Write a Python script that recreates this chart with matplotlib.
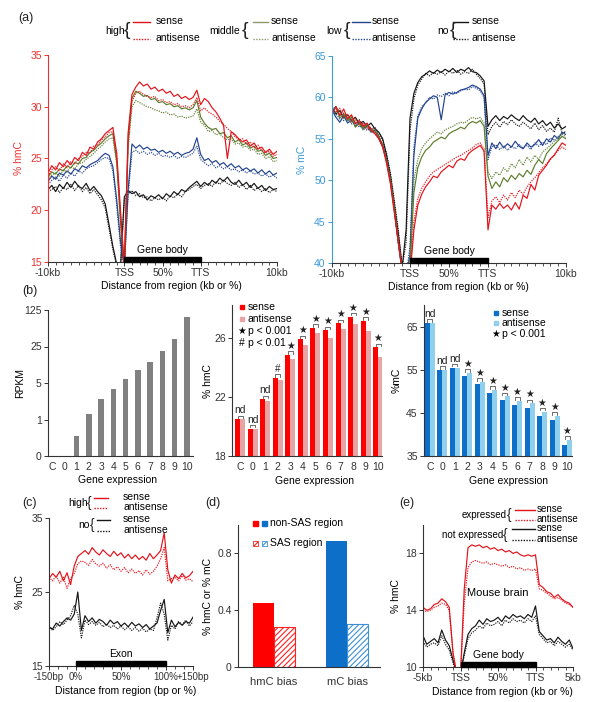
import numpy as np
import matplotlib
matplotlib.use('Agg')
import matplotlib.pyplot as plt
from matplotlib.patches import Rectangle
from matplotlib.ticker import MultipleLocator, NullLocator

plt.rcParams['font.family'] = ['Liberation Sans', 'DejaVu Sans']
plt.rcParams['font.size'] = 7.5
plt.rcParams['hatch.linewidth'] = 0.8

# ---------------- data ----------------
# (a) profiles: 0 = -10kb, 1 = TSS, 2 = TTS, 3 = +10kb
x_a = np.linspace(0, 3, 61)
hmc_high_sense = [23.6, 24.3, 23.9, 24.6, 24.2, 24.8, 24.4, 25.1, 24.8, 25.6, 25.3, 26.1, 25.9, 26.6, 26.9, 27.4, 27.7, 28.0, 25.5, 20.0, 14.5,
                  27.5, 31.2, 31.9, 32.4, 32.0, 32.2, 31.7, 31.9, 31.5, 31.7, 31.3, 31.5, 31.0, 31.2, 30.8, 31.0, 30.7, 30.9, 31.6,
                  30.2, 30.8, 30.5, 29.9, 29.5, 28.9, 28.2, 25.0, 27.6, 27.3, 26.9, 26.6, 26.8, 26.2, 26.5, 25.9, 26.1, 25.6, 25.9, 25.4, 25.7]
hmc_high_anti = [23.3, 23.9, 24.2, 23.8, 24.5, 24.1, 24.7, 24.5, 25.0, 25.2, 25.6, 25.5, 26.2, 26.3, 26.8, 27.1, 27.5, 27.6, 25.0, 19.5, 14.5,
                 26.5, 30.5, 31.3, 31.5, 31.2, 31.0, 30.9, 31.0, 30.6, 30.7, 30.4, 30.5, 30.2, 30.3, 30.0, 30.1, 29.9, 30.2, 30.9,
                 29.6, 29.9, 29.5, 29.3, 29.0, 28.6, 28.3, 27.9, 27.6, 27.1, 26.8, 26.9, 26.4, 26.6, 26.0, 26.3, 25.8, 25.5, 25.7, 25.2, 25.4]
hmc_mid_sense = [23.2, 23.7, 23.5, 24.0, 23.8, 24.3, 24.1, 24.6, 24.5, 25.0, 25.1, 25.6, 25.8, 26.2, 26.5, 26.9, 27.2, 27.4, 24.8, 19.0, 14.5,
                 27.0, 30.8, 31.5, 31.3, 31.0, 31.1, 30.7, 30.8, 30.4, 30.5, 30.2, 30.3, 30.0, 30.1, 29.8, 29.9, 29.7, 29.9, 30.6,
                 29.0, 28.4, 28.0, 27.8, 27.9, 27.4, 27.5, 27.0, 27.2, 26.6, 26.8, 26.3, 26.5, 26.0, 26.2, 25.7, 25.8, 25.3, 25.5, 25.0, 25.1]
hmc_mid_anti = [23.0, 23.4, 23.6, 23.3, 23.9, 23.7, 24.2, 24.0, 24.5, 24.6, 24.9, 25.2, 25.5, 25.9, 26.2, 26.6, 26.9, 27.0, 24.5, 18.5, 14.5,
                26.0, 30.0, 30.6, 30.4, 30.2, 30.0, 29.9, 29.7, 29.6, 29.4, 29.5, 29.2, 29.3, 29.0, 29.1, 28.9, 29.0, 29.1, 29.8,
                28.5, 28.2, 27.6, 27.7, 27.3, 27.4, 27.0, 26.8, 26.9, 26.4, 26.5, 26.1, 26.2, 25.8, 25.9, 25.4, 25.5, 25.0, 25.2, 24.7, 24.8]
hmc_low_sense = [22.8, 23.3, 23.0, 23.6, 23.4, 23.8, 23.5, 24.0, 23.8, 24.3, 24.1, 24.4, 24.6, 24.8, 25.2, 25.5, 25.3, 24.2, 21.0, 17.0, 14.5,
                 22.0, 26.4, 26.0, 26.3, 25.9, 26.1, 25.8, 25.9, 25.6, 25.8, 25.5, 25.7, 25.4, 25.6, 25.3, 25.5, 25.6, 25.9, 27.0,
                 25.4, 24.8, 25.0, 24.6, 24.8, 24.4, 24.6, 24.2, 24.5, 24.1, 24.3, 23.9, 24.1, 23.8, 24.0, 23.6, 23.9, 23.5, 23.8, 23.4, 23.6]
hmc_low_anti = [22.5, 22.9, 23.2, 22.8, 23.4, 23.1, 23.6, 23.3, 23.8, 23.6, 24.0, 24.2, 24.3, 24.6, 24.9, 25.1, 25.0, 23.8, 20.5, 16.5, 14.5,
                21.5, 25.6, 25.8, 25.5, 25.7, 25.4, 25.6, 25.3, 25.5, 25.2, 25.3, 25.1, 25.3, 25.0, 25.2, 25.1, 25.3, 25.5, 26.2,
                24.9, 24.6, 24.3, 24.5, 24.1, 24.3, 24.0, 24.2, 23.9, 24.0, 23.7, 23.9, 23.6, 23.8, 23.5, 23.6, 23.3, 23.5, 23.2, 23.4, 23.1]
hmc_no_sense = [22.0, 22.4, 21.8, 22.5, 22.1, 22.7, 22.2, 22.8, 22.3, 22.1, 22.6, 21.9, 22.3, 21.8, 21.4, 20.6, 18.6, 16.5, 14.8, 14.5, 21.3,
                21.9, 21.6, 21.8, 21.3, 21.5, 21.0, 21.4, 21.2, 21.5, 21.1, 21.6, 21.3, 21.8, 21.5, 22.0, 21.8, 22.2, 22.5, 22.8,
                22.3, 22.7, 22.4, 22.9, 22.6, 23.1, 22.8, 23.2, 22.7, 22.5, 22.9, 22.4, 22.7, 22.2, 22.6, 22.1, 22.4, 21.9, 22.3, 22.0, 22.1]
hmc_no_anti = [21.8, 22.0, 22.3, 21.7, 22.2, 22.0, 22.5, 21.9, 22.4, 21.8, 22.2, 21.6, 22.0, 21.5, 21.0, 20.2, 18.2, 16.2, 14.6, 14.5, 21.0,
               21.6, 21.9, 21.4, 21.6, 21.2, 21.3, 20.9, 21.2, 21.0, 21.3, 20.9, 21.4, 21.2, 21.6, 21.3, 21.8, 22.0, 22.3, 22.5,
               22.1, 22.4, 22.6, 22.3, 22.8, 22.5, 22.9, 22.6, 22.4, 22.7, 22.2, 22.5, 22.0, 22.4, 21.9, 22.2, 21.8, 22.1, 21.7, 22.0, 21.8]

mc_no_sense = [58.8, 58.0, 58.4, 57.5, 57.9, 57.2, 57.6, 56.8, 57.1, 56.5, 56.9, 56.2, 55.8, 55.0, 53.0, 50.5, 47.0, 43.5, 39.5, 44.0, 57.5,
               60.5, 61.8, 62.5, 62.8, 63.2, 62.9, 63.3, 63.0, 63.4, 63.1, 63.5, 63.0, 63.4, 63.2, 63.6, 63.1, 63.0, 62.6, 62.0,
               56.5, 57.3, 57.8, 57.2, 57.7, 57.4, 57.9, 57.5, 57.2, 57.8, 57.3, 57.0, 57.5, 56.8, 57.2, 56.6, 57.0, 56.3, 56.8, 56.2, 56.5]
mc_no_anti = [58.5, 58.9, 57.8, 58.1, 57.4, 57.8, 56.9, 57.3, 56.6, 56.8, 56.1, 56.4, 55.6, 54.8, 53.2, 50.8, 47.5, 44.0, 39.5, 42.5, 56.0,
              59.8, 61.5, 62.2, 62.9, 62.6, 63.0, 62.8, 63.1, 62.7, 63.2, 62.9, 63.3, 62.8, 63.1, 62.9, 63.4, 62.8, 62.3, 61.6,
              55.5, 56.5, 57.0, 56.4, 57.1, 56.7, 57.3, 56.8, 56.5, 57.0, 56.6, 56.2, 56.9, 56.1, 56.6, 55.9, 56.3, 55.8, 57.5, 55.6, 55.9]
mc_low_sense = [58.5, 57.6, 57.0, 57.8, 56.9, 57.3, 56.5, 57.0, 56.2, 56.6, 55.8, 56.0, 55.3, 54.2, 52.5, 50.0, 46.5, 42.5, 39.0, 38.5, 41.0,
                53.0, 57.5, 58.6, 59.4, 59.8, 60.2, 60.0, 57.3, 60.3, 60.6, 60.4, 60.6, 60.9, 61.0, 61.2, 61.5, 61.3, 61.0, 60.2,
                53.0, 54.5, 53.8, 54.6, 53.9, 54.4, 54.0, 54.7, 54.1, 53.8, 54.5, 54.0, 54.3, 54.9, 54.2, 55.0, 54.6, 55.4, 55.0, 55.8, 55.5]
mc_low_anti = [58.2, 58.0, 57.4, 57.2, 57.5, 56.8, 57.0, 56.4, 56.7, 56.0, 56.3, 55.7, 55.0, 54.0, 52.3, 49.8, 46.3, 42.3, 39.0, 38.5, 42.0,
               54.0, 57.8, 58.9, 59.3, 60.0, 59.8, 60.3, 60.1, 60.5, 60.2, 60.7, 60.5, 60.8, 61.0, 60.9, 61.3, 61.1, 60.8, 60.0,
               52.5, 54.0, 54.3, 53.7, 54.2, 53.6, 54.1, 53.8, 54.3, 53.9, 54.2, 53.7, 54.5, 54.1, 54.6, 54.3, 55.1, 54.8, 55.3, 55.6, 55.9]
mc_mid_sense = [58.2, 58.8, 57.5, 58.0, 57.2, 57.6, 56.4, 56.9, 56.3, 56.7, 55.9, 56.1, 55.2, 54.0, 52.3, 49.8, 46.5, 42.5, 39.0, 38.5, 39.5,
                48.5, 51.5, 52.8, 53.6, 54.0, 54.6, 54.9, 55.2, 55.0, 55.6, 55.9, 56.1, 56.4, 56.2, 56.8, 57.1, 56.9, 57.2, 56.5,
                50.5, 49.0, 49.8, 49.2, 50.3, 49.8, 50.6, 50.1, 50.8, 50.4, 51.2, 50.7, 51.8, 52.5, 52.0, 53.2, 53.8, 54.3, 54.8, 55.3, 55.0]
mc_mid_anti = [57.9, 58.3, 58.5, 57.6, 57.9, 57.0, 57.3, 56.7, 56.0, 56.5, 56.2, 55.6, 55.4, 54.2, 52.6, 50.2, 46.8, 42.8, 39.0, 38.5, 40.5,
               50.0, 52.5, 53.8, 54.5, 55.0, 55.4, 55.8, 55.6, 56.1, 56.3, 56.5, 56.8, 57.0, 56.9, 57.3, 57.6, 57.4, 57.6, 56.9,
               51.0, 50.2, 51.0, 50.6, 51.5, 51.0, 52.0, 51.5, 52.5, 51.8, 52.8, 52.2, 53.0, 52.5, 53.4, 53.8, 54.2, 54.7, 55.0, 55.6, 55.2]
mc_high_sense = [58.0, 58.9, 57.8, 58.6, 57.4, 57.9, 56.8, 57.2, 56.5, 56.9, 56.0, 55.6, 55.0, 54.0, 52.0, 49.5, 46.0, 42.5, 39.0, 38.5, 38.5,
                 44.0, 47.0, 48.3, 49.2, 49.8, 50.5, 50.3, 51.0, 51.4, 51.8, 51.5, 52.3, 52.6, 52.4, 53.2, 53.6, 53.9, 54.2, 53.5,
                 44.0, 47.0, 46.5, 47.2, 46.6, 47.0, 46.4, 47.3, 46.5, 48.2, 47.8, 49.5, 48.8, 50.6, 51.2, 51.8, 52.6, 53.0, 53.8, 54.5, 54.2]
mc_high_anti = [58.4, 58.2, 58.7, 57.6, 58.0, 57.1, 57.5, 56.6, 56.9, 56.2, 56.4, 55.8, 55.2, 54.2, 52.3, 49.8, 46.2, 42.8, 39.0, 38.5, 38.5,
                45.0, 47.8, 49.0, 49.8, 50.5, 51.0, 51.3, 51.6, 51.9, 52.2, 52.5, 52.8, 53.0, 53.3, 53.6, 53.9, 54.3, 54.5, 53.8,
                45.5, 47.5, 48.0, 47.3, 48.2, 47.6, 48.5, 47.9, 48.8, 48.3, 49.2, 49.8, 50.3, 50.9, 51.5, 52.0, 52.5, 53.1, 53.6, 54.0, 53.7]

# (b) bars by gene expression class
expr_labels = ['C', '0', '1', '2', '3', '4', '5', '6', '7', '8', '9', '10']
rpkm = [0, 0, 0.55, 1.27, 2.46, 3.86, 6.06, 8.8, 12.9, 20.3, 35.0, 92.0]
hmc_sense = [20.48, 19.85, 21.83, 23.27, 24.82, 25.88, 26.65, 26.49, 26.97, 27.41, 27.12, 25.34]
hmc_anti = [20.48, 19.80, 21.72, 23.13, 24.55, 25.48, 26.31, 25.97, 26.58, 26.94, 26.47, 24.69]
hmc_sig = ['nd', 'nd', 'nd', '#', '★', '★', '★', '★', '★', '★', '★', '★']
mc_sense = [65.8, 54.95, 55.3, 53.6, 51.6, 49.5, 47.9, 46.8, 46.1, 44.3, 43.3, 37.6]
mc_anti = [65.8, 55.0, 55.5, 54.2, 52.2, 50.3, 48.8, 47.8, 47.2, 45.3, 44.3, 38.7]
mc_sig = ['nd', 'nd', 'nd', '★', '★', '★', '★', '★', '★', '★', '★', '★']

# (c) exon profile: 0 = exon start, 1 = exon end, flanks 150bp
x_c = np.linspace(-0.3, 1.3, 41)
c_high_sense = [26.8, 27.5, 27.0, 27.8, 26.5, 27.6, 26.0, 28.5, 29.8, 30.2, 30.6, 30.1, 31.0, 30.4, 30.0, 30.7, 30.2, 29.8, 30.5, 29.9,
                30.3, 29.6, 30.1, 29.5, 30.0, 29.4, 29.8, 29.3, 30.2, 29.5, 30.0, 30.6, 33.0, 28.0, 26.2, 27.3, 26.8, 27.5, 26.9, 27.2, 27.8]
c_high_anti = [27.0, 26.5, 27.2, 26.2, 27.0, 25.5, 26.8, 27.5, 28.8, 29.2, 29.0, 28.6, 29.4, 28.8, 28.5, 28.9, 28.2, 28.7, 28.0, 28.4,
               27.8, 28.3, 27.6, 28.1, 27.5, 27.9, 27.3, 28.0, 27.4, 27.8, 28.5, 29.5, 31.0, 26.5, 26.8, 27.0, 26.5, 27.2, 26.6, 26.8, 26.4]
c_no_sense = [20.2, 20.0, 20.8, 20.4, 21.0, 21.5, 21.2, 22.0, 25.0, 19.8, 21.8, 21.0, 21.5, 20.8, 21.3, 21.0, 20.5, 21.2, 20.7, 21.0,
              20.4, 20.8, 20.3, 20.9, 20.4, 20.7, 20.2, 20.6, 20.0, 20.4, 20.8, 22.5, 24.0, 19.5, 21.2, 20.3, 20.9, 20.5, 21.0, 20.8, 21.6]
c_no_anti = [20.5, 19.8, 20.3, 21.0, 20.6, 21.2, 21.8, 23.2, 22.0, 18.8, 21.2, 20.6, 21.0, 20.5, 20.9, 20.3, 20.7, 20.2, 20.5, 20.0,
             20.4, 19.9, 20.3, 19.8, 20.2, 19.7, 20.1, 19.6, 20.0, 19.8, 21.5, 23.5, 22.0, 18.5, 20.5, 20.0, 21.0, 20.6, 21.2, 20.4, 21.0]

# (d) strand bias
bias_labels = ['hmC bias', 'mC bias']
bias_nonsas = [0.45, 0.886]
bias_sas = [0.28, 0.30]

# (e) mouse brain: 0 = TSS, 1 = TTS, flanks 5kb
x_e = np.linspace(-0.5, 1.5, 41)
e_exp_sense = [14.2, 14.0, 14.1, 14.4, 14.5, 14.8, 14.6, 14.2, 11.0, 9.5, 9.5, 15.5, 18.4, 18.6, 18.5, 18.6, 18.4, 18.5, 18.3, 18.4,
               18.2, 18.3, 18.1, 18.2, 18.0, 18.1, 17.9, 17.8, 17.9, 17.8, 17.9, 15.8, 15.6, 15.3, 15.2, 14.9, 15.1, 14.8, 14.6, 14.5, 14.2]
e_exp_anti = [14.0, 13.9, 14.0, 14.2, 14.3, 14.5, 14.4, 14.0, 11.0, 9.5, 9.5, 14.5, 17.0, 17.4, 17.5, 17.4, 17.3, 17.4, 17.2, 17.3,
              17.2, 17.1, 17.2, 17.0, 17.1, 16.9, 17.0, 16.8, 16.9, 16.8, 16.9, 15.5, 15.4, 15.2, 15.0, 14.8, 14.9, 14.7, 14.5, 14.4, 14.2]
e_not_sense = [12.2, 11.6, 11.8, 12.0, 11.7, 12.6, 11.9, 11.5, 10.5, 9.5, 9.5, 11.0, 12.3, 12.7, 12.9, 13.3, 13.0, 13.4, 13.2, 13.3,
               13.5, 13.2, 13.6, 13.4, 13.7, 13.5, 13.6, 13.4, 13.7, 13.5, 14.3, 12.5, 12.2, 11.9, 12.0, 11.7, 12.1, 11.8, 11.6, 11.9, 11.3]
e_not_anti = [11.8, 11.4, 11.6, 11.7, 11.5, 12.2, 11.6, 11.2, 10.3, 9.5, 9.5, 10.8, 12.0, 12.4, 12.6, 12.9, 12.7, 13.1, 12.9, 13.0,
              13.2, 12.9, 13.3, 13.1, 13.4, 13.2, 13.3, 13.1, 13.4, 13.2, 13.6, 12.3, 12.0, 11.7, 11.8, 11.5, 11.8, 11.6, 11.4, 11.6, 11.2]

# ---------------- style ----------------
RED = '#e3121a'
GREEN = '#5c7c2c'
NAVY = '#23438f'
BLACK = '#151515'
AXRED = '#f03030'
AXBLUE = '#3d9ad8'
GRAY = '#333333'
DOT = (0, (1, 1))
LW = 0.85

W, H = 600, 702
fig = plt.figure(figsize=(W / 100, H / 100), dpi=100)


def px_axes(l, t, r, b):
    return fig.add_axes([l / W, 1 - b / H, (r - l) / W, (b - t) / H])


def style(ax, left_color=GRAY):
    ax.spines['top'].set_visible(False)
    ax.spines['right'].set_visible(False)
    ax.spines['left'].set_color(left_color)
    ax.spines['bottom'].set_color(GRAY)
    ax.tick_params(direction='out', length=3, width=0.7, pad=1.5, labelsize=7.5, colors=GRAY)
    ax.tick_params(axis='y', colors=left_color)
    ax.set_facecolor('none')


def body_bar(ax, x0, label, h_px):
    tr = ax.get_xaxis_transform()
    ax.add_patch(Rectangle((x0, 0), 1, 5 / h_px, transform=tr, color='black', clip_on=False, zorder=5))
    ax.text(x0 + 0.5, 7 / h_px, label, transform=tr, ha='center', va='bottom', fontsize=7.5)


# ---- (a) left: hmC ----
ax = px_axes(48, 55, 277, 262)
style(ax, AXRED)
series = [(hmc_no_anti, BLACK, DOT), (hmc_no_sense, BLACK, '-'),
          (hmc_low_anti, NAVY, DOT), (hmc_low_sense, NAVY, '-'),
          (hmc_mid_anti, GREEN, DOT), (hmc_mid_sense, GREEN, '-'),
          (hmc_high_anti, RED, DOT), (hmc_high_sense, RED, '-')]
for y, c, ls in series:
    ax.plot(x_a, y, color=c, lw=LW, ls=ls)
body_bar(ax, 1, 'Gene body', 207)
ax.set_xlim(0, 3)
ax.set_ylim(15, 35)
ax.set_yticks([15, 20, 25, 30, 35])
ax.set_xticks([0, 1, 1.5, 2, 3], ['-10kb', 'TSS', '50%', 'TTS', '10kb'])
ax.xaxis.set_minor_locator(MultipleLocator(0.1))
ax.tick_params(axis='x', which='minor', length=2, width=0.6, colors=GRAY)
ax.set_ylabel('% hmC', color=AXRED)
ax.yaxis.set_label_coords(-0.105, 0.5)
ax.set_xlabel('Distance from region (kb or %)')
ax.xaxis.set_label_coords(0.54, -0.09)

# ---- (a) right: mC ----
ax = px_axes(332, 56, 566, 263)
style(ax, AXBLUE)
series = [(mc_no_anti, BLACK, DOT), (mc_no_sense, BLACK, '-'),
          (mc_low_anti, NAVY, DOT), (mc_low_sense, NAVY, '-'),
          (mc_mid_anti, GREEN, DOT), (mc_mid_sense, GREEN, '-'),
          (mc_high_anti, RED, DOT), (mc_high_sense, RED, '-')]
for y, c, ls in series:
    ax.plot(x_a, y, color=c, lw=LW, ls=ls)
body_bar(ax, 1, 'Gene body', 207)
ax.set_xlim(0, 3)
ax.set_ylim(40, 65)
ax.set_yticks([40, 45, 50, 55, 60, 65])
ax.set_xticks([0, 1, 1.5, 2, 3], ['-10kb', 'TSS', '50%', 'TTS', '10kb'])
ax.xaxis.set_minor_locator(MultipleLocator(0.1))
ax.tick_params(axis='x', which='minor', length=2, width=0.6, colors=GRAY)
ax.set_ylabel('% mC', color=AXBLUE)
ax.yaxis.set_label_coords(-0.107, 0.5)
ax.set_xlabel('Distance from region (kb or %)')
ax.xaxis.set_label_coords(0.54, -0.09)

# ---- (b) RPKM ----
xb = np.arange(len(expr_labels))
ax = px_axes(48, 310, 193, 456)
style(ax)
ax.bar(xb, rpkm, width=0.45, color='#808080')
ax.set_yscale('symlog', base=5, linthresh=1, linscale=0.8)
ax.set_ylim(0, 125)
ax.set_yticks([0, 1, 5, 25, 125], ['0', '1', '5', '25', '125'])
ax.yaxis.set_minor_locator(NullLocator())
ax.set_xlim(-0.33, 11.5)
ax.set_xticks(xb, expr_labels)
ax.tick_params(axis='x', length=0, pad=4)
ax.set_ylabel('RPKM')
ax.yaxis.set_label_coords(-0.16, 0.5)
ax.set_xlabel('Gene expression')
ax.xaxis.set_label_coords(0.48, -0.13)


def sig_marks(ax, sense, anti, marks, px_unit):
    for i, (s, a, m) in enumerate(zip(sense, anti, marks)):
        base = max(s, a) + 1.2 / px_unit
        h = 2.5 / px_unit
        ax.plot([i - 0.2, i - 0.2, i + 0.2, i + 0.2], [base, base + h, base + h, base],
                color='#555555', lw=0.6, clip_on=False)
        ax.text(i, base + h + 0.3 / px_unit, m, ha='center', va='bottom',
                fontsize=7.5 if m == 'nd' else 7, color='#222222', clip_on=False)


# ---- (b) hmC bars ----
ax = px_axes(232, 305, 382, 456)
style(ax)
ax.bar(xb - 0.2, hmc_sense, width=0.4, color='#ff0000')
ax.bar(xb + 0.2, hmc_anti, width=0.4, color='#e6a4a4')
ax.set_ylim(18, 28.2)
sig_marks(ax, hmc_sense, hmc_anti, hmc_sig, 151 / 10.2)
ax.set_yticks([18, 22, 26])
ax.set_xlim(-0.64, 11.3)
ax.set_xticks(xb, expr_labels)
ax.tick_params(axis='x', length=0, pad=4)
ax.set_ylabel('% hmC')
ax.yaxis.set_label_coords(-0.127, 0.5)
ax.set_xlabel('Gene expression')
ax.xaxis.set_label_coords(0.55, -0.13)

# ---- (b) mC bars ----
ax = px_axes(424, 305, 572, 456)
style(ax)
ax.bar(xb - 0.2, mc_sense, width=0.4, color='#0d6fc8')
ax.bar(xb + 0.2, mc_anti, width=0.4, color='#8fd0ee')
ax.set_ylim(35, 70)
sig_marks(ax, mc_sense, mc_anti, mc_sig, 151 / 35)
ax.set_yticks([35, 45, 55, 65])
ax.set_xlim(-0.48, 11.4)
ax.set_xticks(xb, expr_labels)
ax.tick_params(axis='x', length=0, pad=4)
ax.set_ylabel('%mC')
ax.yaxis.set_label_coords(-0.15, 0.5)
ax.set_xlabel('Gene expression')
ax.xaxis.set_label_coords(0.57, -0.13)

# ---- (c) exon ----
ax = px_axes(49, 518, 193, 666)
style(ax)
for y, c, ls in [(c_no_anti, BLACK, DOT), (c_no_sense, BLACK, '-'),
                 (c_high_anti, RED, DOT), (c_high_sense, RED, '-')]:
    ax.plot(x_c, y, color=c, lw=LW, ls=ls)
body_bar(ax, 0, 'Exon', 148)
ax.set_xlim(-0.3, 1.3)
ax.set_ylim(15, 35)
ax.set_yticks([15, 25, 35])
ax.set_xticks([-0.3, 0, 0.5, 1, 1.3], ['-150bp', '0%', '50%', '100%', '+150bp'])
ax.tick_params(axis='x', labelsize=7)
ax.xaxis.set_minor_locator(MultipleLocator(0.1))
ax.tick_params(axis='x', which='minor', length=2, width=0.6, colors=GRAY)
ax.set_ylabel('% hmC')
ax.yaxis.set_label_coords(-0.167, 0.5)
ax.set_xlabel('Distance from region (bp or %)')
ax.xaxis.set_label_coords(0.53, -0.135)

# ---- (d) SAS bias ----
xd = np.arange(len(bias_labels))
ax = px_axes(238, 525, 380, 667)
style(ax)
ax.bar(xd - 0.145, bias_nonsas, width=0.29, color=['#ff0000', '#0d6fc8'])
ax.bar(xd + 0.145, bias_sas, width=0.29, facecolor='white', edgecolor=['#ff2020', '#3d8fd8'],
       hatch='//////', lw=0.8)
ax.set_ylim(0, 1.0)
ax.set_yticks([0, 0.4, 0.8], ['0', '0.4', '0.8'])
ax.set_xlim(-0.49, 1.45)
ax.set_xticks(xd, bias_labels)
ax.tick_params(axis='x', length=0, pad=7, labelsize=8)
ax.set_ylabel('% hmC or % mC')
ax.yaxis.set_label_coords(-0.176, 0.5)

# ---- (e) mouse brain ----
ax = px_axes(423, 525, 573, 667)
style(ax)
for y, c, ls in [(e_not_anti, BLACK, DOT), (e_not_sense, BLACK, '-'),
                 (e_exp_anti, RED, DOT), (e_exp_sense, RED, '-')]:
    ax.plot(x_e, y, color=c, lw=LW, ls=ls)
body_bar(ax, 0, 'Gene body', 142)
ax.text(0.5, 15.2, 'Mouse brain', ha='center', va='center', fontsize=8)
ax.set_xlim(-0.5, 1.5)
ax.set_ylim(10, 20)
ax.set_yticks([10, 14, 18])
ax.set_xticks([-0.5, 0, 0.5, 1, 1.5], ['-5kb', 'TSS', '50%', 'TTS', '5kb'])
ax.xaxis.set_minor_locator(MultipleLocator(0.1))
ax.tick_params(axis='x', which='minor', length=2, width=0.6, colors=GRAY)
ax.set_ylabel('% hmC')
ax.yaxis.set_label_coords(-0.147, 0.5)
ax.set_xlabel('Distance from region (kb or %)')
ax.xaxis.set_label_coords(0.53, -0.14)

# ---------------- overlay: panel letters and legends (pixel coords) ----------------
ov = fig.add_axes([0, 0, 1, 1])
ov.set_xlim(0, W)
ov.set_ylim(H, 0)
ov.axis('off')

for lab, x, y in [('(a)', 18, 18), ('(b)', 22, 291), ('(c)', 22, 503), ('(d)', 205, 503), ('(e)', 399, 503)]:
    ov.text(x, y, lab, fontsize=9, va='center', ha='left', color='#222222')


def brace_legend(label, lab_right, brace_x, l0, l1, tx, y1, y2, color, bsize=14, fs=7.5):
    ym = (y1 + y2) / 2
    ov.text(lab_right, ym, label, ha='right', va='center', fontsize=fs)
    ov.text(brace_x, ym, '{', ha='left', va='center', fontsize=bsize, color='#222222')
    ov.plot([l0, l1], [y1, y1], color=color, lw=1.0)
    ov.plot([l0, l1], [y2, y2], color=color, lw=1.0, ls=DOT)
    ov.text(tx, y1 - 1, 'sense', va='center', fontsize=fs)
    ov.text(tx, y2 - 1, 'antisense', va='center', fontsize=fs)


brace_legend('high', 125, 124, 133, 150, 156, 22, 39, RED)
brace_legend('middle', 240, 242, 253, 268, 271, 22, 39, '#8a9a6c')
brace_legend('low', 342, 344, 352, 370, 372, 22, 39, NAVY)
brace_legend('no', 449, 450, 453, 468, 472, 22, 39, BLACK)

brace_legend('high', 88, 87, 94, 108, 123, 498, 508, RED, bsize=10)
brace_legend('no', 90, 90, 97, 110, 123, 520, 531, BLACK, bsize=10)

brace_legend('expressed', 507, 507, 515, 535, 537, 510, 520, RED, bsize=10, fs=7)
brace_legend('not expressed', 503, 503, 512, 535, 537, 529, 540, BLACK, bsize=10, fs=7)

# (b) legends
ov.plot([242], [307], 's', ms=3.5, color='#ff0000')
ov.text(248, 307, 'sense', va='center', fontsize=7.5)
ov.plot([242], [319], 's', ms=3.5, color='#e6a4a4')
ov.text(248, 319, 'antisense', va='center', fontsize=7.5)
ov.text(242, 331, '★', va='center', ha='center', fontsize=7)
ov.text(248, 331, 'p < 0.001', va='center', fontsize=7.5)
ov.text(242, 343, '#', va='center', ha='center', fontsize=7.5)
ov.text(248, 343, 'p < 0.01', va='center', fontsize=7.5)

ov.plot([496], [313], 's', ms=3.5, color='#0d6fc8')
ov.text(502, 313, 'sense', va='center', fontsize=7.5)
ov.plot([496], [323], 's', ms=3.5, color='#8fd0ee')
ov.text(502, 323, 'antisense', va='center', fontsize=7.5)
ov.text(496, 334, '★', va='center', ha='center', fontsize=7)
ov.text(502, 334, 'p < 0.001', va='center', fontsize=7.5)

# (d) legend
ov.add_patch(Rectangle((253, 520.5), 5, 5, color='#ff0000'))
ov.add_patch(Rectangle((262, 520.5), 5, 5, color='#0d6fc8'))
ov.text(270, 523, 'non-SAS region', va='center', fontsize=7.5)
ov.add_patch(Rectangle((253, 540.5), 5, 5, facecolor='white', edgecolor='#ff2020', hatch='////', lw=0.6))
ov.add_patch(Rectangle((262, 540.5), 5, 5, facecolor='white', edgecolor='#3d8fd8', hatch='////', lw=0.6))
ov.text(270, 543, 'SAS region', va='center', fontsize=7.5)

fig.savefig('out.png', dpi=100)
